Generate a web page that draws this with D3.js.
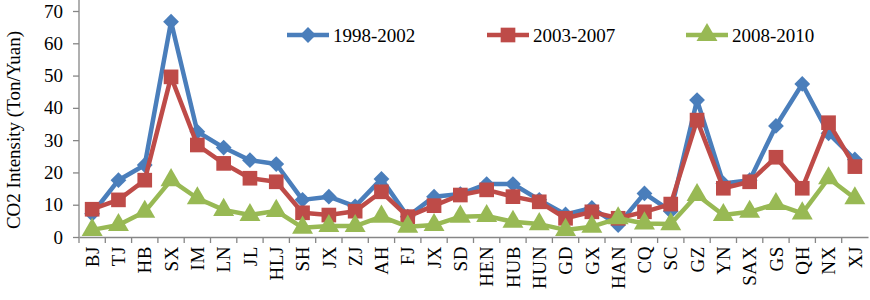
<!DOCTYPE html>
<html>
<head>
<meta charset="utf-8">
<script src="https://cdn.jsdelivr.net/npm/d3@7/dist/d3.min.js"></script>
<style>
  html, body { margin: 0; padding: 0; background: #fff; }
  svg { display: block; }
  text { font-family: "Liberation Serif", "DejaVu Serif", serif; fill: #000; }
</style>
</head>
<body>
<svg id="chart" width="870" height="300"></svg>
<script>
const categories = ["BJ","TJ","HB","SX","IM","LN","JL","HLJ","SH","JX","ZJ","AH","FJ","JX ","SD","HEN","HUB","HUN","GD","GX","HAN","CQ","SC","GZ","YN","SAX","GS","QH","NX","XJ"];
const s1998 = [7.2,17.6,22.3,66.7,32.6,27.7,23.8,22.6,11.5,12.5,9.5,18.0,6.3,12.5,13.3,16.4,16.4,11.5,7.0,9.0,3.7,13.5,8.0,42.4,16.6,17.6,34.4,47.4,32.1,24.0];
const s2003 = [8.6,11.5,17.6,49.6,28.5,22.8,18.2,17.1,7.5,6.8,8.0,14.0,6.3,9.7,13.0,14.6,12.5,10.9,5.8,7.8,5.8,7.8,10.2,36.2,15.1,17.1,24.7,15.1,35.4,21.8];
const s2008 = [2.2,3.7,7.8,17.6,12.0,8.4,6.8,8.1,2.9,3.4,3.4,6.3,3.2,3.7,6.3,6.5,4.7,4.0,2.2,3.2,5.8,4.2,4.0,13.0,6.8,7.8,10.2,7.3,18.2,12.0];
const seriesNames = ["1998-2002","2003-2007","2008-2010"];
const yTicks = [0,10,20,30,40,50,60,70];

const colors = ["#4A7EBB","#BE4B48","#98B954"];
const shapes = [d3.symbolSquare, d3.symbolSquare, d3.symbolTriangle];
const rotations = [45, 0, 0];
const symSizes = [125, 215, 190];
const FONT = "'Liberation Serif', serif";

const svg = d3.select("#chart");
const mLeft = 79, mRight = 868, mTop = 11, mBottom = 237;

const x = d3.scaleBand().domain(categories).range([mLeft, mRight]);
const y = d3.scaleLinear().domain([0, 70]).range([mBottom, mTop]);

// y axis
const yAxis = svg.append("g").attr("transform", `translate(${mLeft},0)`)
  .call(d3.axisLeft(y).tickValues(yTicks).tickSize(6).tickPadding(10).tickSizeOuter(0));
yAxis.select(".domain").remove();
yAxis.append("line").attr("x1",0).attr("x2",0).attr("y1",0).attr("y2",mBottom).attr("stroke","#868686").attr("stroke-width",1.3);
yAxis.selectAll(".tick line").attr("stroke","#868686").attr("stroke-width",1.3);
yAxis.selectAll(".tick text").style("font-family",FONT).style("font-size","19px").attr("fill","#000");

// x axis
const xAxis = svg.append("g").attr("transform", `translate(0,${mBottom})`)
  .call(d3.axisBottom(x).tickSize(0).tickSizeOuter(0));
xAxis.select(".domain").attr("stroke","#868686").attr("stroke-width",1.3);
xAxis.selectAll(".tick line").remove();
const bounds = categories.map(c => x(c));
xAxis.selectAll("line.bt").data(bounds).enter().append("line")
  .attr("x1", d => d).attr("x2", d => d).attr("y1", 0).attr("y2", 6)
  .attr("stroke","#868686").attr("stroke-width",1.3);
xAxis.selectAll(".tick text")
  .style("font-family",FONT).style("font-size","19px").style("letter-spacing","0.6px").attr("fill","#000")
  .attr("transform","rotate(-90)").attr("text-anchor","end")
  .attr("x", -9).attr("y", 0).attr("dy","0.35em");

// y title
svg.append("text")
  .attr("transform", `translate(20,${(mTop+mBottom)/2 + 6}) rotate(-90)`)
  .attr("text-anchor","middle").style("font-size","19px")
  .text("CO2 Intensity (Ton/Yuan)");

const data = [s1998, s2003, s2008];
const cx = c => x(c) + x.bandwidth()/2;
const line = d3.line().x((d,i) => cx(categories[i])).y(d => y(d));

data.forEach((vals, k) => {
  const g = svg.append("g");
  g.append("path").datum(vals).attr("d", line)
    .attr("fill","none").attr("stroke",colors[k]).attr("stroke-width",4.5).attr("stroke-linejoin","round");
  g.selectAll("path.m").data(vals).enter().append("path")
    .attr("transform",(d,i) => `translate(${cx(categories[i])},${y(d)}) rotate(${rotations[k]})`)
    .attr("d", d3.symbol().type(shapes[k]).size(symSizes[k]))
    .attr("fill", colors[k]);
});

// legend
const legX = [287, 487, 686];
seriesNames.forEach((n, k) => {
  const g = svg.append("g").attr("transform", `translate(${legX[k]},35)`);
  g.append("line").attr("x1",0).attr("x2",42).attr("y1",0).attr("y2",0)
    .attr("stroke",colors[k]).attr("stroke-width",4.5);
  g.append("path").attr("transform",`translate(21,0) rotate(${rotations[k]})`)
    .attr("d", d3.symbol().type(shapes[k]).size(symSizes[k])).attr("fill",colors[k]);
  g.append("text").attr("x",46).attr("y",0).attr("dy","0.35em").style("font-size","19px").text(n);
});
</script>
</body>
</html>
